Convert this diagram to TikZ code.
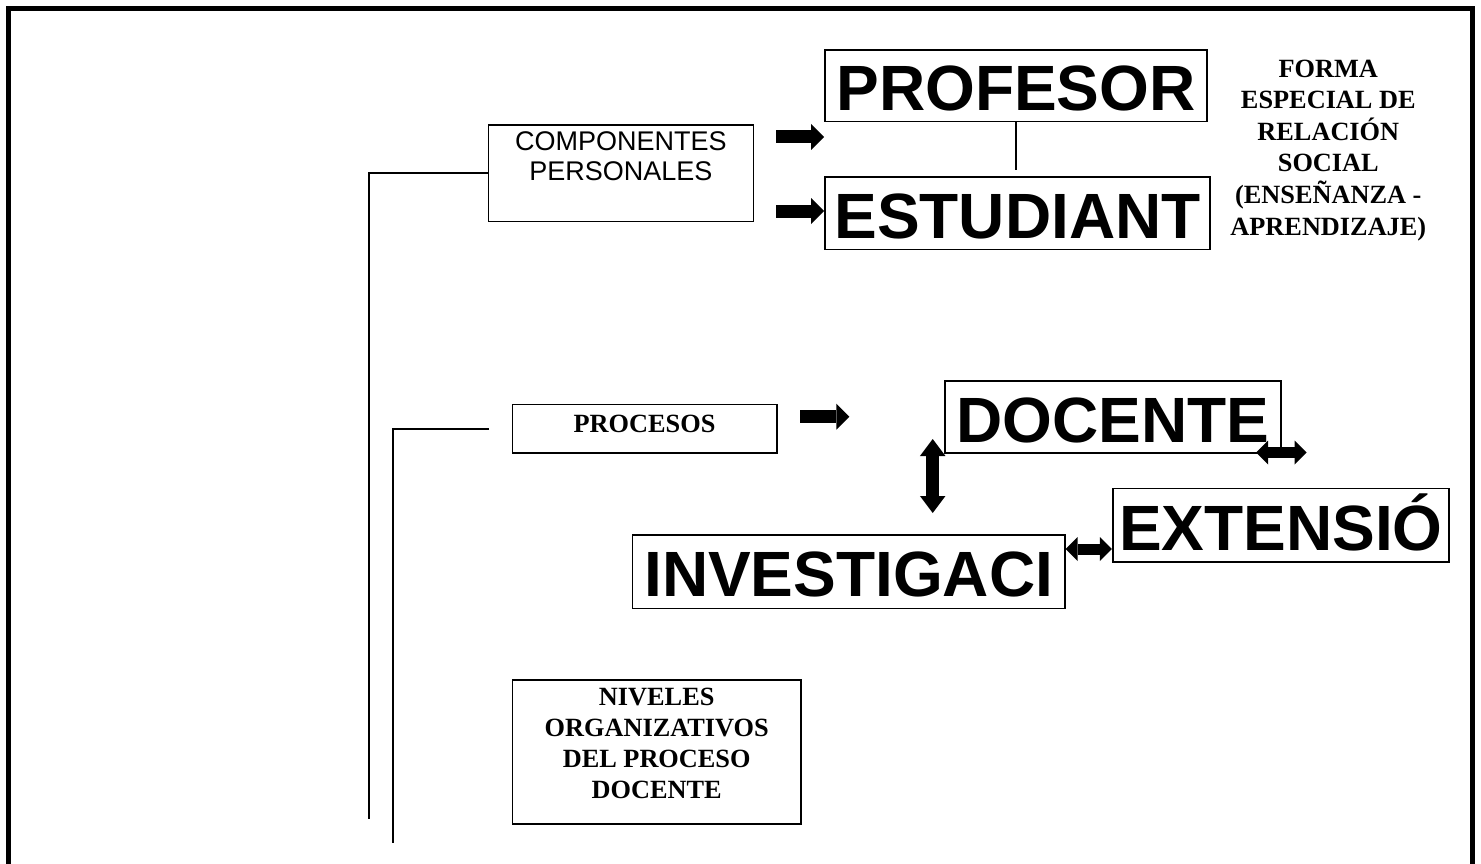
\documentclass[tikz,border=0pt]{standalone}
\usepackage{fontspec}
\setmainfont{Liberation Serif}
\newfontfamily\arialf{Liberation Sans}
\usetikzlibrary{arrows.meta}
\tikzset{
  bigbox/.style={draw, line width=1.6pt, inner sep=0pt,
    font=\arialf\bfseries\fontsize{64}{70}\selectfont, text height=50pt, text depth=0pt},
  plainbox/.style={draw, line width=1.6pt, inner sep=0pt},
  serifbold/.style={font=\bfseries\fontsize{26.3}{31.3}\selectfont, inner sep=0pt, anchor=base},
  sanslabel/.style={font=\arialf\fontsize{27}{30}\selectfont, inner sep=0pt, anchor=base},
  thinln/.style={line width=1.6pt},
  blockarrow/.style={line width=13pt, -{Triangle[width=26pt,length=13pt,line width=0pt]}},
  vdbl/.style={line width=13pt, {Triangle[width=25.5pt,length=17pt,line width=0pt]}-{Triangle[width=25.5pt,length=17pt,line width=0pt]}},
  hdbl/.style={line width=11pt, {Triangle[width=24pt,length=12pt,line width=0pt]}-{Triangle[width=24pt,length=12pt,line width=0pt]}},
  frameln/.style={line width=5pt}
}
\begin{document}
\begin{tikzpicture}[x=1pt,y=-1pt]
\useasboundingbox (0,0) rectangle (1481,864);
% outer frame (open at the bottom)
\draw[frameln] (8.5,880) -- (8.5,8.5) -- (1472.5,8.5) -- (1472.5,880);

% boxes
\node[plainbox, minimum width=265pt, minimum height=96.7pt] (comp) at (620.8,173.3) {};
\node[sanslabel] (comptext) at (620.8,151) {\begin{tabular}[t]{@{}c@{}}COMPONENTES\\PERSONALES\end{tabular}};

\node[bigbox, minimum width=382pt, minimum height=71.7pt] (prof) at (1016,85.85) {PROFESOR};
\node[bigbox, minimum width=385pt, minimum height=72.3pt] (stud) at (1017.5,213.2) {ESTUDIANT};

\node[serifbold] (forma) at (1328.3,77.3) {\begin{tabular}[t]{@{}c@{}}FORMA\\ESPECIAL DE\\RELACIÓN\\SOCIAL\\(ENSEÑANZA -\\APRENDIZAJE)\end{tabular}};

\node[plainbox, minimum width=264.4pt, minimum height=48.4pt] (proc) at (644.5,428.5) {};
\node[serifbold] (proctext) at (644.5,432.3) {PROCESOS};

\node[bigbox, minimum width=336pt, minimum height=72pt] (doc) at (1113,417) {DOCENTE};
\node[bigbox, minimum width=336.3pt, minimum height=73.5pt] (ext) at (1280.9,525.3) {EXTENSIÓ};
\node[bigbox, minimum width=432.7pt, minimum height=73.3pt] (inv) at (848.7,571.7) {INVESTIGACI};

\node[plainbox, minimum width=288.7pt, minimum height=144pt] (niv) at (656.7,752) {};
\node[serifbold] (nivtext) at (656.7,705) {\begin{tabular}[t]{@{}c@{}}NIVELES\\ORGANIZATIVOS\\DEL PROCESO\\DOCENTE\end{tabular}};

% coordinates for free ends
\coordinate (b1) at (369,819);
\coordinate (b2s) at (489,429);
\coordinate (b2e) at (392.7,843);
\coordinate (pl) at (1016,170);
\coordinate (a1) at (776,137);
\coordinate (a2) at (776,211);
\coordinate (a3s) at (800,416.7);
\coordinate (a3e) at (849.3,416.7);
\coordinate (v1) at (932.7,439);
\coordinate (v2) at (932.7,513);
\coordinate (h1) at (1256,452.5);
\coordinate (h2) at (1306.5,452.5);
\coordinate (d2) at (1065.5,549);

% bracket lines
\draw[thinln] (comp.west) -| (b1);
\draw[thinln] (b2s) -| (b2e);
\draw[thinln] (prof.south) -- (pl);

% block arrows
\draw[blockarrow] (a1) -- (a1 -| prof.west);
\draw[blockarrow] (a2) -- (a2 -| stud.west);
\draw[blockarrow] (a3s) -- (a3e);
\draw[vdbl] (v1) -- (v2);
\draw[hdbl] (h1) -- (h2);
\draw[hdbl] (d2) -- (d2 -| ext.west);
\end{tikzpicture}
\end{document}
